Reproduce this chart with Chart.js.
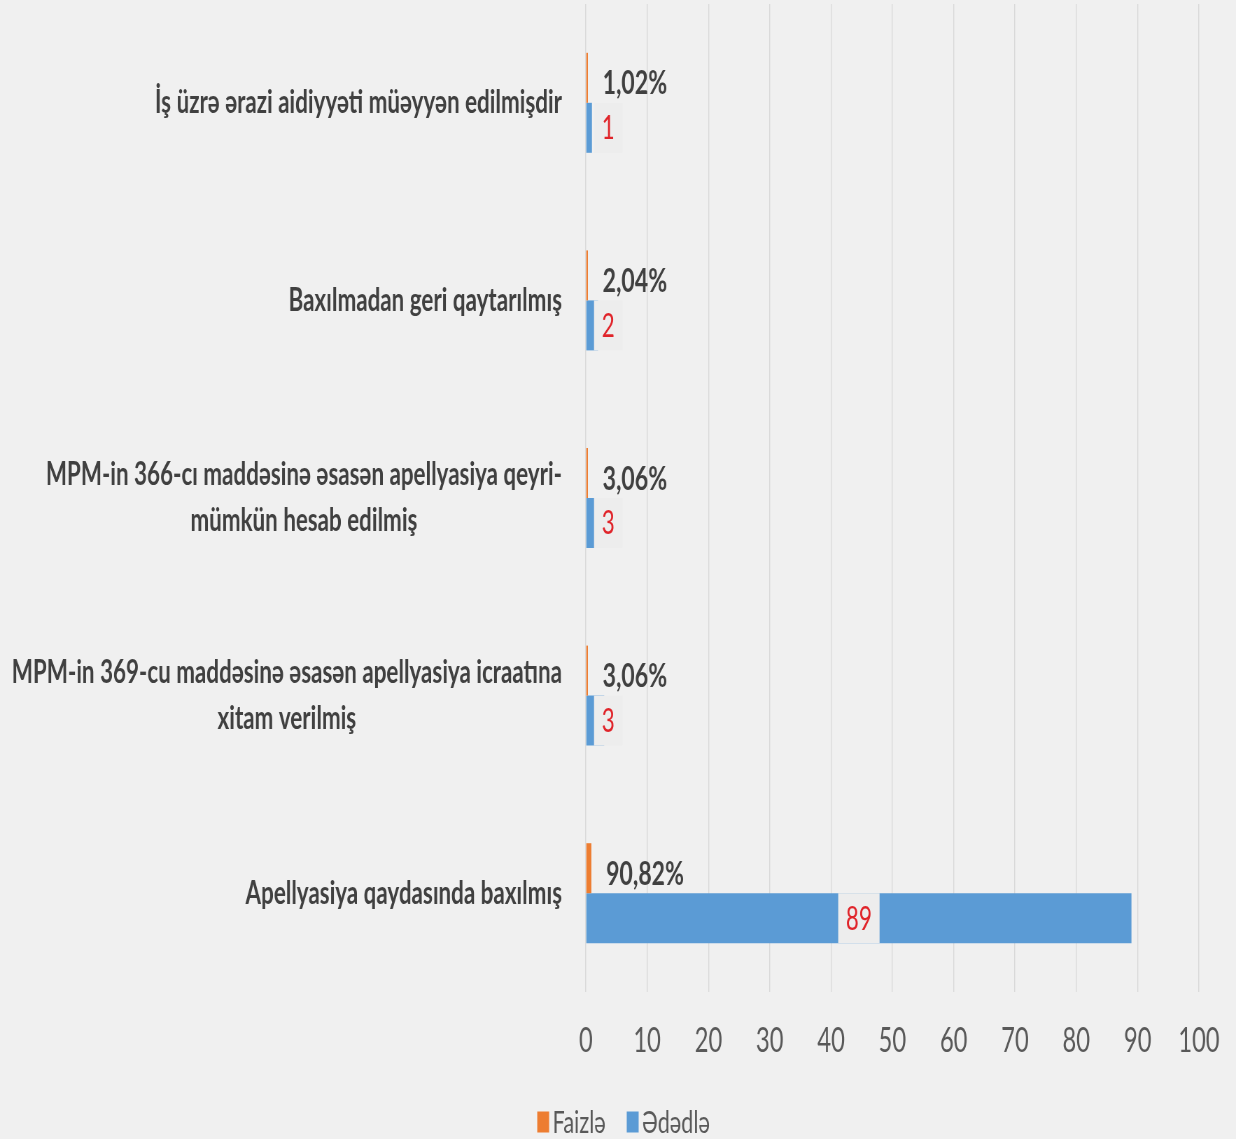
<!DOCTYPE html>
<html>
<head>
<meta charset="utf-8">
<script src="https://cdn.jsdelivr.net/npm/chart.js@4.4.1/dist/chart.umd.min.js"></script>
<style>
  html, body { margin: 0; padding: 0; background: #f0f0f0; overflow: hidden; }
  #wrap { width: 1236px; height: 1139px; }
  canvas { display: block; }
</style>
</head>
<body>
<div id="wrap">
  <!-- drawn on a wider backing canvas and shown narrower, for condensed lettering -->
  <canvas id="c" width="1766" height="1139" style="width:1236px;height:1139px"></canvas>
</div>
<script>
const categories = [
  ['İş üzrə ərazi aidiyyəti müəyyən edilmişdir'],
  ['Baxılmadan geri qaytarılmış'],
  ['MPM-in 366-cı maddəsinə əsasən apellyasiya qeyri-', 'mümkün hesab edilmiş'],
  ['MPM-in 369-cu maddəsinə əsasən apellyasiya icraatına', 'xitam verilmiş'],
  ['Apellyasiya qaydasında baxılmış']
];
const seriesNames = ['Faizlə', 'Ədədlə'];
const shareValues = [0.0102, 0.0204, 0.0306, 0.0306, 0.9082];
const countValues = [1, 2, 3, 3, 89];
const xTickValues = [0, 10, 20, 30, 40, 50, 60, 70, 80, 90, 100];

const FONT = "Lato, 'Open Sans', sans-serif";
const COLORS = { share: '#ed7d31', count: '#5b9bd5', grid: '#d9d9d9', text: '#404040', axis: '#595959', red: '#e0242a', box: '#ededed' };

// category names, right-aligned as a block with each line centred in it
const categoryLabels = {
  id: 'categoryLabels',
  afterDraw(chart) {
    const { ctx, chartArea } = chart;
    const yScale = chart.scales.y;
    const right = chartArea.left - 34;
    const lineH = 46;
    ctx.save();
    ctx.font = 'bold 32px ' + FONT;
    ctx.fillStyle = COLORS.text;
    ctx.textAlign = 'center';
    ctx.textBaseline = 'middle';
    categories.forEach((lines, i) => {
      const cy = yScale.getPixelForValue(i);
      const w = Math.max(...lines.map(l => ctx.measureText(l).width));
      const cx = right - w / 2;
      lines.forEach((l, j) => ctx.fillText(l, cx, cy + (j - (lines.length - 1) / 2) * lineH));
    });
    ctx.restore();
  }
};

// value labels for both series
const valueLabels = {
  id: 'valueLabels',
  afterDatasetsDraw(chart) {
    const { ctx } = chart;
    ctx.save();
    // percentages beside the orange bars
    const m0 = chart.getDatasetMeta(0);
    ctx.font = 'bold 33px ' + FONT;
    ctx.fillStyle = COLORS.text;
    ctx.textAlign = 'left';
    ctx.textBaseline = 'middle';
    m0.data.forEach((bar, i) => {
      const txt = (shareValues[i] * 100).toFixed(2).replace('.', ',') + '%';
      ctx.fillText(txt, bar.x + 21, bar.y + 6);
    });
    // counts on the blue bars, on a plain box
    const m1 = chart.getDatasetMeta(1);
    ctx.font = '32px ' + FONT;
    ctx.textAlign = 'center';
    m1.data.forEach((bar, i) => {
      const txt = String(countValues[i]);
      const tw = ctx.measureText(txt).width;
      const bw = tw + 22;
      const len = bar.x - bar.base;
      const cx = len > bw + 20 ? (bar.x + bar.base) / 2 : bar.base + 11 + bw / 2;
      ctx.fillStyle = COLORS.box;
      ctx.fillRect(cx - bw / 2, bar.y - bar.height / 2, bw, bar.height);
      ctx.fillStyle = COLORS.red;
      ctx.fillText(txt, cx, bar.y + 1);
    });
    ctx.restore();
  }
};

// legend along the bottom
const bottomLegend = {
  id: 'bottomLegend',
  afterDraw(chart) {
    const { ctx } = chart;
    const ds = chart.data.datasets;
    ctx.save();
    ctx.font = '31px ' + FONT;
    ctx.textBaseline = 'middle';
    ctx.textAlign = 'left';
    const boxW = 17, boxH = 21, gap = 5, itemGap = 30;
    const widths = ds.map(d => boxW + gap + ctx.measureText(d.label).width);
    const total = widths.reduce((a, b) => a + b, 0) + itemGap * (ds.length - 1);
    let x = 891 - total / 2;
    const cy = 1122;
    ds.forEach((d, i) => {
      ctx.fillStyle = d.backgroundColor;
      ctx.fillRect(x, cy - boxH / 2, boxW, boxH);
      ctx.fillStyle = COLORS.axis;
      ctx.fillText(d.label, x + boxW + gap, cy + 1);
      x += widths[i] + itemGap;
    });
    ctx.restore();
  }
};

Chart.defaults.font.family = FONT;

new Chart(document.getElementById('c'), {
  type: 'bar',
  data: {
    labels: categories,
    datasets: [
      { label: seriesNames[0], data: shareValues, backgroundColor: COLORS.share, minBarLength: 3 },
      { label: seriesNames[1], data: countValues, backgroundColor: COLORS.count }
    ]
  },
  options: {
    indexAxis: 'y',
    responsive: false,
    animation: false,
    devicePixelRatio: 1,
    categoryPercentage: 0.506,
    barPercentage: 1.0,
    layout: { padding: { top: 4, right: 53, bottom: 67, left: 0 } },
    plugins: { legend: { display: false }, tooltip: { enabled: false } },
    scales: {
      x: {
        min: 0, max: 100,
        grid: { color: COLORS.grid, lineWidth: 1.4, drawTicks: false },
        border: { display: false },
        ticks: { color: COLORS.axis, font: { size: 34 }, padding: 29, maxRotation: 0 },
        afterBuildTicks(s) { s.ticks = xTickValues.map(v => ({ value: v })); },
        afterFit(s) { s.height = 80; s.paddingLeft = 0; s.paddingRight = 0; }
      },
      y: {
        grid: { display: false },
        border: { display: false },
        ticks: { display: false },
        afterFit(s) { s.width = 837; }
      }
    }
  },
  plugins: [categoryLabels, valueLabels, bottomLegend]
});
</script>
</body>
</html>
